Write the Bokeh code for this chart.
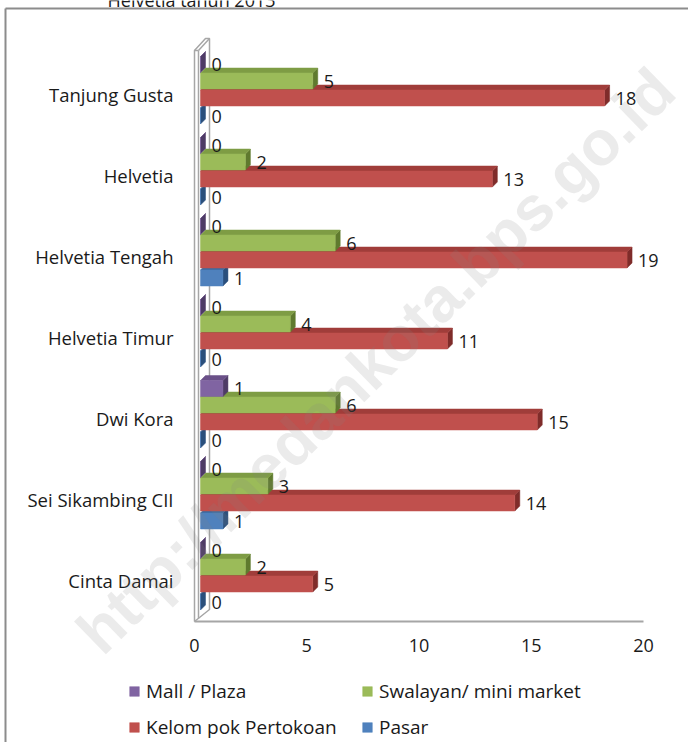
import math
from bokeh.plotting import figure
from bokeh.models import FixedTicker, Legend, LegendItem, Label, Range1d
from bokeh.embed import file_html
from bokeh.resources import INLINE
from bokeh.core.properties import value

# ---- data (top to bottom as in the chart) ----
categories = ["Tanjung Gusta", "Helvetia", "Helvetia Tengah", "Helvetia Timur",
              "Dwi Kora", "Sei Sikambing CII", "Cinta Damai"]
series_names = ["Mall / Plaza", "Swalayan/ mini market", "Kelom pok Pertokoan", "Pasar"]
mall = [0, 0, 0, 0, 1, 0, 0]
swalayan = [5, 2, 6, 4, 6, 3, 2]
kelompok = [18, 13, 19, 11, 15, 14, 5]
pasar = [0, 0, 1, 0, 0, 1, 0]
x_ticks = [0, 5, 10, 15, 20]
title_fragment = "Helvetia  tahun 2013"
watermark = "http://medankota.bps.go.id"

# ---- styling ----
FONT = "Open Sans"
TXT = "#1a1a1a"
GRAY = "#A6A6A6"
colors = {
    "Mall / Plaza": ("#8064A2", "#6A5088", "#4E3B66"),
    "Swalayan/ mini market": ("#9BBB59", "#7E9C44", "#5F7A2E"),
    "Kelom pok Pertokoan": ("#C0504D", "#A03D3A", "#7F2C2A"),
    "Pasar": ("#4F81BD", "#3D6A9F", "#2A4F7C"),
}

W, H = 688, 742
X0PX, PX_X = 194.0, 22.45     # pixel of value 0, pixels per unit
Y0PX, PX_Y = 580.0, 81.0      # pixel of the lowest category, pixels per category
ux, uy = 1.0 / PX_X, 1.0 / PX_Y


def X(px):
    return (px - X0PX) / PX_X


def Y(py):
    return (Y0PX - py) / PX_Y


p = figure(width=W, height=H, output_backend="svg", toolbar_location=None,
           x_range=Range1d(X(0), X(W)), y_range=Range1d(Y(H), Y(0)),
           min_border=0, min_border_left=0, min_border_right=0,
           min_border_top=0, min_border_bottom=0)
p.outline_line_color = None
p.xgrid.visible = False
p.ygrid.visible = False

n = len(categories)
ypos = [n - 1 - i for i in range(n)]

# partially visible title line at the very top (cut off in the original)
p.text(x=[X(107)], y=[Y(-0.5)], text=[title_fragment], text_font=value(FONT),
       text_font_size="18px", text_color=TXT, text_baseline="alphabetic",
       text_align="left")

# outer chart border (left and top)
p.segment(x0=[X(5), X(5)], y0=[Y(8), Y(8)], x1=[X(5), X(W)], y1=[Y(H), Y(8)],
          line_color="#8c8c8c", line_width=2)

# 3D geometry
shift = 6 * ux
dx, dy = 5 * ux, 5 * uy
hh = 8 * uy
offsets = {"Mall / Plaza": 30 * uy, "Swalayan/ mini market": 13.5 * uy,
           "Kelom pok Pertokoan": -3.5 * uy, "Pasar": -21.5 * uy}
series_vals = {"Mall / Plaza": mall, "Swalayan/ mini market": swalayan,
               "Kelom pok Pertokoan": kelompok, "Pasar": pasar}

# wall / floor
floor_y = Y(621)
wall_top = Y(50)
wall_w = 4 * ux
bx, by = 11 * ux, 12 * uy
p.segment(x0=[x_ticks[0]], y0=[floor_y], x1=[x_ticks[-1]], y1=[floor_y],
          line_color=GRAY, line_width=2)
p.patch(x=[0, 0, bx, bx + wall_w, bx + wall_w, 0],
        y=[floor_y, wall_top, wall_top + by, wall_top + by, floor_y + by, floor_y],
        fill_color="white", line_color=GRAY, line_width=1.5)
p.segment(x0=[0, wall_w, wall_w], y0=[wall_top, wall_top, wall_top],
          x1=[wall_w, wall_w, bx + wall_w], y1=[wall_top, floor_y + 3 * uy, wall_top + by],
          line_color=GRAY, line_width=1.5)

front_renderers = {}
lab_x, lab_y, lab_t = [], [], []
for s in ["Pasar", "Kelom pok Pertokoan", "Swalayan/ mini market", "Mall / Plaza"]:
    fc, tc, sc = colors[s]
    vals = series_vals[s]
    fx, fy, tx, ty, sx, sy = [], [], [], [], [], []
    for i, v in enumerate(vals):
        c = ypos[i] + offsets[s]
        y0, y1 = c - hh, c + hh
        x0, x1 = shift, shift + v
        fx.append([x0, x1, x1, x0]); fy.append([y0, y0, y1, y1])
        tx.append([x0, x1, x1 + dx, x0 + dx]); ty.append([y1, y1, y1 + dy, y1 + dy])
        sx.append([x1, x1, x1 + dx, x1 + dx]); sy.append([y0, y1, y1 + dy, y0 + dy])
        lab_x.append(x1 + dx + 6 * ux); lab_y.append(c); lab_t.append(str(v))
    p.patches(xs=sx, ys=sy, fill_color=sc, line_color=sc, line_width=0.5)
    p.patches(xs=tx, ys=ty, fill_color=tc, line_color=tc, line_width=0.5)
    front_renderers[s] = p.patches(xs=fx, ys=fy, fill_color=fc, line_color=fc, line_width=0.5)

p.text(x=lab_x, y=lab_y, text=lab_t, text_font=value(FONT), text_font_size="18px",
       text_color=TXT, text_baseline="middle", text_align="left")

# axes (fixed inside the frame)
p.xaxis.fixed_location = Y(623)
p.xaxis.ticker = FixedTicker(ticks=x_ticks)
p.xaxis.axis_line_color = None
p.xaxis.major_tick_line_color = None
p.xaxis.minor_tick_line_color = None
p.xaxis.major_tick_out = 0
p.xaxis.major_tick_in = 0
p.xaxis.major_label_standoff = 15
p.xaxis.major_label_text_font = FONT
p.xaxis.major_label_text_font_size = "18px"
p.xaxis.major_label_text_color = TXT

p.yaxis.fixed_location = X(180)
p.yaxis.ticker = FixedTicker(ticks=ypos)
p.yaxis.major_label_overrides = {ypos[i]: categories[i] for i in range(n)}
p.yaxis.axis_line_color = None
p.yaxis.major_tick_line_color = None
p.yaxis.minor_tick_line_color = None
p.yaxis.major_tick_out = 0
p.yaxis.major_tick_in = 0
p.yaxis.major_label_standoff = 7
p.yaxis.major_label_text_font = FONT
p.yaxis.major_label_text_font_size = "18.5px"
p.yaxis.major_label_text_color = TXT
p.yaxis.major_label_text_baseline = "middle"


# legends (two columns)
def make_legend(names, loc):
    lg = Legend(items=[LegendItem(label=nm, renderers=[front_renderers[nm]]) for nm in names],
                location=loc, orientation="vertical", padding=0, margin=0,
                spacing=10, label_standoff=6, glyph_width=12, glyph_height=12,
                label_height=22, label_text_font=FONT, label_text_font_size="19px",
                label_text_color=TXT, border_line_color=None,
                background_fill_alpha=0)
    p.add_layout(lg)


make_legend([series_names[0], series_names[2]], (128, H - 740))
make_legend([series_names[1], series_names[3]], (361, H - 740))

# watermark
wm = Label(x=X(375), y=Y(360), text=watermark,
           angle=math.radians(44.3), text_align="center", text_baseline="middle",
           text_font="Liberation Sans", text_font_style="bold", text_font_size="63px",
           text_color="#808080", text_alpha=0.16)
p.add_layout(wm)

open("out.html", "w").write(file_html(p, INLINE))
